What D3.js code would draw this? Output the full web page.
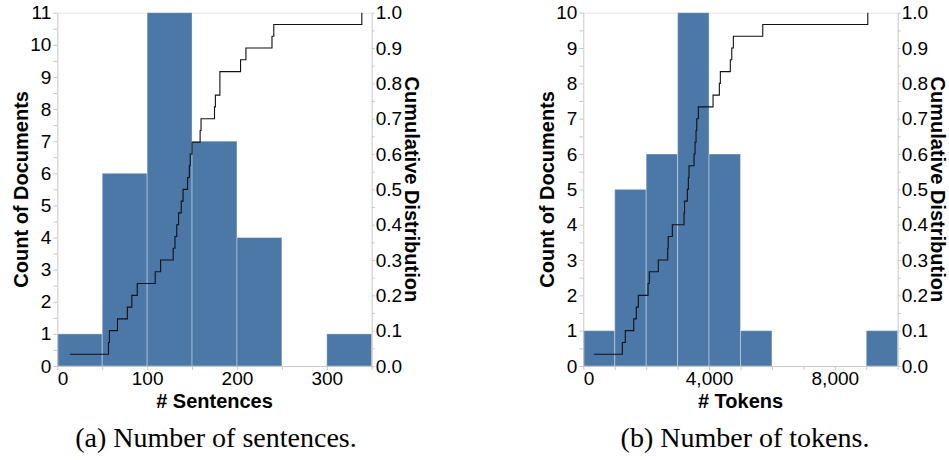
<!DOCTYPE html>
<html>
<head>
<meta charset="utf-8">
<script src="https://cdn.jsdelivr.net/npm/d3@7"></script>
<style>
  body { margin: 0; background: #fff; }
  svg { display: block; }
  .tick text { font-family: "Liberation Sans", Arial, sans-serif; font-size: 19px; fill: #000; }
  .axis path, .axis line { stroke: #c8c8c8; }
  .title { font-family: "Liberation Sans", Arial, sans-serif; font-size: 20px; font-weight: bold; }
  .caption { font-family: "Liberation Serif", "Times New Roman", serif; font-size: 28px; }
</style>
</head>
<body>
<svg id="fig" width="949" height="460"></svg>
<script>
// (a) sentences per document
const sentences = [14, 57, 58, 67, 78, 83, 89, 109, 115, 129, 131, 133, 135, 138, 140,
  145, 147, 148, 150, 159, 160, 175, 176, 181, 181, 204, 210, 239, 241, 339];
const sentenceBins = [0, 50, 100, 150, 200, 250, 300, 350];
const sentenceCounts = [1, 6, 11, 7, 4, 0, 1];
const sentenceXLabels = [0, 100, 200, 300];

// (b) tokens per document
const tokens = [340, 1241, 1336, 1604, 1686, 1750, 2059, 2100, 2386, 2685, 2700, 2832,
  3204, 3220, 3309, 3341, 3363, 3522, 3554, 3586, 3608, 3659, 4127, 4327, 4359, 4677,
  4722, 4773, 5708, 9049];
const tokenBins = [0, 1000, 2000, 3000, 4000, 5000, 6000, 7000, 8000, 9000, 10000];
const tokenCounts = [1, 5, 6, 10, 6, 1, 0, 0, 0, 1];
const tokenXLabels = [0, 4000, 8000];

const captions = ['(a) Number of sentences.', '(b) Number of tokens.'];

const svg = d3.select('#fig');
const plotW = 314.4, plotTop = 12.7, plotBottom = 366;

function drawChart(g, values, bins, counts, xLabels, yMax, xTitle, fmt) {
    const h = plotBottom - plotTop;
    const x = d3.scaleLinear().domain([bins[0], bins[bins.length - 1]]).range([0, plotW]);
    const y = d3.scaleLinear().domain([0, yMax]).range([h, 0]);
    const yc = d3.scaleLinear().domain([0, 1]).range([h, 0]);

    // faint view border on top
    g.append('line')
        .attr('x1', 0).attr('x2', plotW).attr('y1', 0.5).attr('y2', 0.5)
        .attr('stroke', '#e4e4e4');

    const barData = counts.map((c, i) => ({x0: bins[i], x1: bins[i + 1], c}))
        .filter(d => d.c > 0);
    g.selectAll('rect.bar')
        .data(barData)
        .enter()
        .append('rect')
        .attr('class', 'bar')
        .attr('x', d => x(d.x0))
        .attr('width', d => x(d.x1) - x(d.x0))
        .attr('y', d => y(d.c))
        .attr('height', d => h - y(d.c))
        .attr('fill', '#4c78a8')
        .attr('stroke', '#fff')
        .attr('stroke-opacity', 0.35)
        .attr('stroke-width', 1);

    const sorted = values.slice().sort((a, b) => a - b);
    const cdf = sorted.map((v, i) => [v, (i + 1) / sorted.length]);
    g.append('path')
        .datum(cdf)
        .attr('fill', 'none')
        .attr('stroke', '#111')
        .attr('stroke-width', 1.1)
        .attr('d', d3.line().x(d => x(d[0])).y(d => yc(d[1])).curve(d3.curveStepAfter));

    const xAxis = d3.axisBottom(x)
        .tickValues(bins)
        .tickSizeInner(4).tickSizeOuter(0).tickPadding(2)
        .tickFormat(d => xLabels.includes(d) ? fmt(d) : '');
    const gx = g.append('g').attr('class', 'axis')
        .attr('transform', `translate(0,${h})`)
        .call(xAxis);
    gx.selectAll('.tick text').filter(d => d === bins[0]).attr('text-anchor', 'start');

    const yAxis = d3.axisLeft(y)
        .tickValues(d3.range(0, yMax + 0.01, 0.5))
        .tickSizeInner(4).tickSizeOuter(0).tickPadding(2)
        .tickFormat(d => Number.isInteger(d) ? d : '');
    g.append('g').attr('class', 'axis').call(yAxis);

    const yAxisR = d3.axisRight(yc)
        .tickValues(d3.range(0, 21).map(i => i / 20))
        .tickSizeInner(3).tickSizeOuter(0).tickPadding(1)
        .tickFormat((d, i) => i % 2 === 0 ? d3.format('.1f')(d) : '');
    g.append('g').attr('class', 'axis')
        .attr('transform', `translate(${plotW},0)`)
        .call(yAxisR);

    g.selectAll('.axis .domain').attr('stroke', '#c8c8c8');

    g.append('text').attr('class', 'title')
        .attr('x', plotW / 2).attr('y', h + 42)
        .attr('text-anchor', 'middle')
        .text(xTitle);
    g.append('text').attr('class', 'title')
        .attr('transform', `translate(-36,${h / 2}) rotate(-90)`)
        .attr('text-anchor', 'middle').attr('dy', '0.35em')
        .text('Count of Documents');
    g.append('text').attr('class', 'title')
        .attr('transform', `translate(${plotW + 40},${h / 2}) rotate(90)`)
        .attr('text-anchor', 'middle').attr('dy', '0.35em')
        .text('Cumulative Distribution');
}

const ga = svg.append('g').attr('transform', `translate(57.3,${plotTop})`);
drawChart(ga, sentences, sentenceBins, sentenceCounts, sentenceXLabels, 11, '# Sentences', d3.format('d'));

const gb = svg.append('g').attr('transform', `translate(583.3,${plotTop})`);
drawChart(gb, tokens, tokenBins, tokenCounts, tokenXLabels, 10, '# Tokens', d3.format(','));

svg.selectAll('text.caption')
    .data(captions)
    .enter()
    .append('text')
    .attr('class', 'caption')
    .attr('x', (_, i) => i === 0 ? 216 : 745)
    .attr('y', 447)
    .attr('text-anchor', 'middle')
    .text(d => d);
</script>
</body>
</html>
